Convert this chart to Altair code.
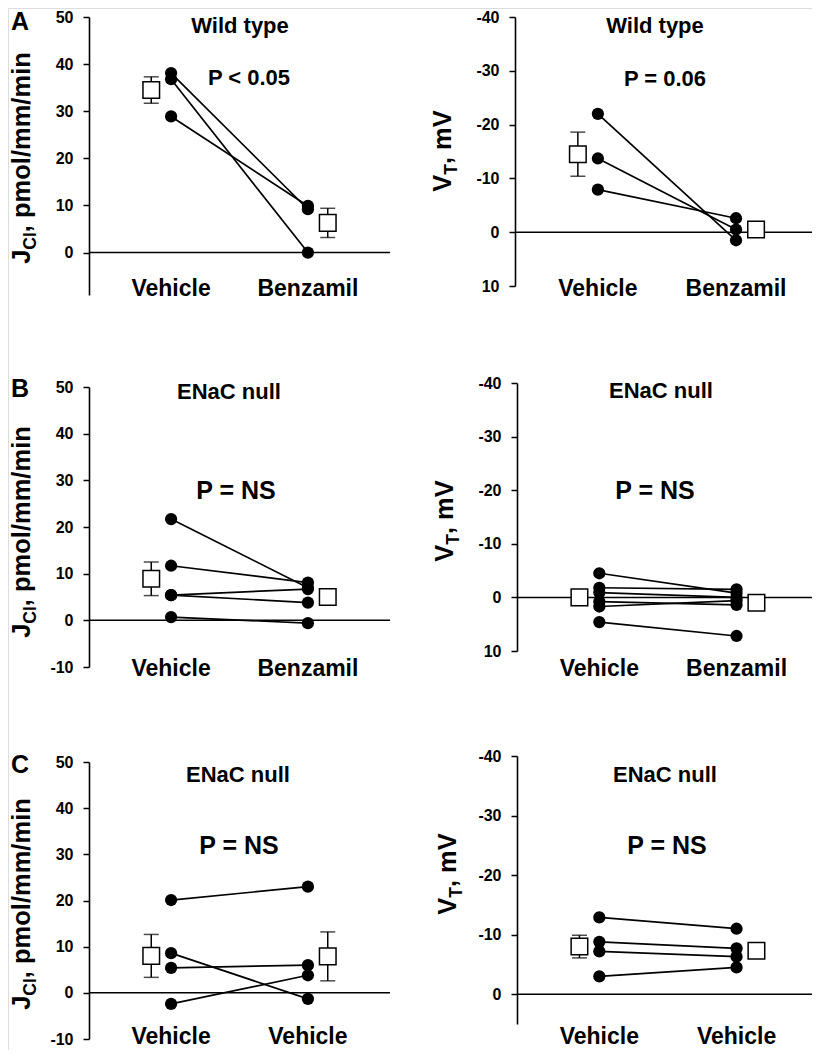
import altair as alt
import pandas as pd

FONT = "Liberation Sans"
BOLD = "bold"

# ---------------- categories / labels ----------------
cond_ab = ["Vehicle", "Benzamil"]
cond_c = ["Vehicle", "Vehicle"]
panel_letters = ["A", "B", "C"]
row_titles = ["Wild type", "ENaC null", "ENaC null"]
p_jcl = ["P < 0.05", "P = NS", "P = NS"]
p_vt = ["P = 0.06", "P = NS", "P = NS"]

# ---------------- Panel A: wild type ----------------
a_jcl_first = [38.1, 36.8, 28.9]
a_jcl_second = [9.2, 0.0, 9.9]
a_jcl_mean = [34.5, 6.3]
a_jcl_sem = [2.8, 3.1]

a_vt_first = [-22.0, -13.7, -7.9]
a_vt_second = [1.5, -0.5, -2.6]
a_vt_mean = [-14.5, -0.5]
a_vt_sem = [4.1, 1.2]

# ---------------- Panel B: ENaC null, benzamil ----------------
b_jcl_first = [21.7, 11.7, 5.4, 5.4, 0.7]
b_jcl_second = [7.0, 8.1, 6.7, 3.8, -0.6]
b_jcl_mean = [8.9, 5.0]
b_jcl_sem = [3.6, 1.5]

b_vt_first = [-4.5, -1.8, -0.9, 0.8, 1.7, 4.6]
b_vt_second = [-0.8, -1.5, 0.0, 1.4, 0.6, 7.2]
b_vt_mean = [0.0, 1.0]
b_vt_sem = [1.3, 1.3]

# ---------------- Panel C: ENaC null, vehicle / vehicle ----------------
c_jcl_first = [20.1, 8.6, 5.4, -2.4]
c_jcl_second = [23.0, -1.3, 6.0, 3.8]
c_jcl_mean = [8.0, 7.9]
c_jcl_sem = [4.65, 5.3]

c_vt_first = [-12.9, -8.8, -7.2, -3.0]
c_vt_second = [-11.0, -7.7, -6.3, -4.5]
c_vt_mean = [-8.0, -7.3]
c_vt_sem = [1.9, 1.2]

# ---------------- axis tick values ----------------
jcl_ticks_a = [0, 10, 20, 30, 40, 50]
jcl_ticks = [-10, 0, 10, 20, 30, 40, 50]
vt_ticks = [-40, -30, -20, -10, 0, 10]
vt_ticks_c = [-40, -30, -20, -10, 0]

MEAN_SHIFT = 0.145
W_TOTAL, H_TOTAL = 804, 1042

# Liberation Sans Bold advance widths (per em) for laying out the y titles
CW = {"J": .556, "C": .722, "l": .278, ",": .278, " ": .278, "p": .611,
      "m": .889, "o": .611, "/": .278, "i": .278, "n": .611, "V": .667,
      "T": .611}
JCL = [("J", 25.5, 0), ("Cl", 17.5, 6), (", pmol/mm/min", 25.5, 0)]
VT = [("V", 25.5, 0), ("T", 17.5, 6), (", mV", 25.5, 0)]


def text_width(s, size):
    return sum(CW.get(ch, .6) for ch in s) * size


def text_layer(t, x, y, size, align="center", angle=0):
    return alt.Chart(pd.DataFrame({"t": [t]})).mark_text(
        font=FONT, fontWeight=BOLD, fontSize=size, align=align, angle=angle,
        baseline="alphabetic", color="black"
    ).encode(text="t:N", x=alt.value(x), y=alt.value(y))


def panel_layers(p):
    xs = alt.Scale(domain=p["xdom"], range=p["xrange"], nice=False, zero=False)
    ys = alt.Scale(domain=p["ydom"], range=p["yrange"], nice=False, zero=False)
    X = lambda f: alt.X(f, scale=xs, axis=None)
    Y = lambda f: alt.Y(f, scale=ys, axis=None)
    yaxis = alt.Axis(orient="left", offset=-p["axis_x"], values=p["yticks"],
                     labelExpr="'' + datum.value", grid=False,
                     domainColor="black", domainWidth=1.6, tickColor="black",
                     tickWidth=1.5, tickSize=6, labelFont=FONT, labelFontSize=16,
                     labelFontWeight=BOLD, labelColor="black", labelPadding=10,
                     labelFlush=False, labelOverlap=False, title=None)

    rows = []
    for i, (a, b) in enumerate(zip(p["first"], p["second"])):
        rows.append({"subject": i, "pos": 1, "value": a})
        rows.append({"subject": i, "pos": 2, "value": b})
    sdf = pd.DataFrame(rows)
    mdf = pd.DataFrame({
        "pos": [1 - MEAN_SHIFT, 2 + MEAN_SHIFT],
        "mean": p["mean"],
        "lo": [m - s for m, s in zip(p["mean"], p["sem"])],
        "hi": [m + s for m, s in zip(p["mean"], p["sem"])],
    })
    zdf = pd.DataFrame({"z": [0], "x0": [p["xdom"][0]], "x1": [p["xdom"][1]]})
    cdf = pd.DataFrame({"pos": [1, 2], "label": p["cats"]})

    layers = [
        alt.Chart(zdf).mark_rule(color="black", strokeWidth=1.5).encode(
            x=X("x0:Q"), x2="x1:Q", y=alt.Y("z:Q", scale=ys, axis=yaxis)),
        alt.Chart(sdf).mark_line(color="black", strokeWidth=1.7).encode(
            x=X("pos:Q"), y=Y("value:Q"), detail="subject:N"),
        alt.Chart(sdf).mark_circle(color="black", opacity=1, size=150).encode(
            x=X("pos:Q"), y=Y("value:Q")),
        alt.Chart(mdf).mark_rule(color="black", strokeWidth=1.5).encode(
            x=X("pos:Q"), y=Y("lo:Q"), y2="hi:Q"),
        alt.Chart(mdf).mark_tick(color="black", orient="horizontal", size=15,
                                 thickness=1.5).encode(x=X("pos:Q"), y=Y("lo:Q")),
        alt.Chart(mdf).mark_tick(color="black", orient="horizontal", size=15,
                                 thickness=1.5).encode(x=X("pos:Q"), y=Y("hi:Q")),
        alt.Chart(mdf).mark_square(fill="white", stroke="black", strokeWidth=1.5,
                                   size=275, opacity=1).encode(
            x=X("pos:Q"), y=Y("mean:Q")),
        alt.Chart(cdf).mark_text(font=FONT, fontWeight=BOLD, fontSize=23,
                                 baseline="alphabetic", color="black").encode(
            x=X("pos:Q"), y=alt.value(p["cat_y"]), text="label:N"),
    ]
    for t, cx, by, fs in p["texts"]:
        layers.append(text_layer(t, cx, by, fs))
    # rotated y-axis title with subscript
    total = sum(text_width(t, fs) for t, fs, _ in p["tparts"])
    y = p["t_center"] + total / 2.0
    for t, fs, shift in p["tparts"]:
        layers.append(text_layer(t, p["t_base"] + shift, y, fs, align="left",
                                 angle=270))
        y -= text_width(t, fs)
    if p.get("letter"):
        lt, lx, ly = p["letter"]
        layers.append(text_layer(lt, lx, ly, 25, align="left"))
    return layers


# All coordinates below are layout positions (pixels in the drawing area)
LEFT_X = [81, 382]
XDOM_L = [0.4, 2.6]
XDOM_R = [0.4, 2.55]

panels = [
    dict(first=a_jcl_first, second=a_jcl_second, mean=a_jcl_mean, sem=a_jcl_sem,
         cats=cond_ab, ydom=[-9, 50], yticks=jcl_ticks_a, yrange=[287, 9],
         xdom=XDOM_L, xrange=LEFT_X, axis_x=81, cat_y=288,
         texts=[(row_titles[0], 232, 25, 22), (p_jcl[0], 241, 77, 22)],
         tparts=JCL, t_center=150, t_base=22, letter=(panel_letters[0], 3, 22)),
    dict(first=a_vt_first, second=a_vt_second, mean=a_vt_mean, sem=a_vt_sem,
         cats=cond_ab, ydom=[-40, 10], yticks=vt_ticks, yrange=[9, 278],
         xdom=XDOM_R, xrange=[507, 804], axis_x=507, cat_y=288,
         texts=[(row_titles[0], 647, 25, 22), (p_vt[0], 657, 78, 22)],
         tparts=VT, t_center=143, t_base=443),
    dict(first=b_jcl_first, second=b_jcl_second, mean=b_jcl_mean, sem=b_jcl_sem,
         cats=cond_ab, ydom=[-10, 50], yticks=jcl_ticks, yrange=[659, 379],
         xdom=XDOM_L, xrange=LEFT_X, axis_x=81, cat_y=668,
         texts=[(row_titles[1], 221, 391, 22), (p_jcl[1], 228, 491, 25)],
         tparts=JCL, t_center=524, t_base=22, letter=(panel_letters[1], 3, 389)),
    dict(first=b_vt_first, second=b_vt_second, mean=b_vt_mean, sem=b_vt_sem,
         cats=cond_ab, ydom=[-40, 10], yticks=vt_ticks, yrange=[375, 643],
         xdom=XDOM_R, xrange=[509, 804], axis_x=509, cat_y=668,
         texts=[(row_titles[1], 653, 390, 22), (p_vt[1], 647, 491, 25)],
         tparts=VT, t_center=513, t_base=445),
    dict(first=c_jcl_first, second=c_jcl_second, mean=c_jcl_mean, sem=c_jcl_sem,
         cats=cond_c, ydom=[-10, 50], yticks=jcl_ticks, yrange=[1031, 754],
         xdom=XDOM_L, xrange=LEFT_X, axis_x=81, cat_y=1036,
         texts=[(row_titles[2], 230, 774, 22), (p_jcl[2], 231, 846, 25)],
         tparts=JCL, t_center=896, t_base=22, letter=(panel_letters[2], 3, 765)),
    dict(first=c_vt_first, second=c_vt_second, mean=c_vt_mean, sem=c_vt_sem,
         cats=cond_c, ydom=[-40, 5], yticks=vt_ticks_c, yrange=[748, 1016],
         xdom=XDOM_R, xrange=[509, 804], axis_x=509, cat_y=1036,
         texts=[(row_titles[2], 657, 774, 22), (p_vt[2], 659, 846, 25)],
         tparts=VT, t_center=866, t_base=448),
]

all_layers = []
for p in panels:
    all_layers += panel_layers(p)

chart = alt.layer(*all_layers).resolve_scale(
    x="independent", y="independent"
).resolve_axis(
    x="independent", y="independent"
).properties(
    width=W_TOTAL, height=H_TOTAL, padding=0,
    autosize=alt.AutoSizeParams(type="none"),
).configure_view(stroke=None).configure(background="white", font=FONT)

chart.save("out.html", embed_options={"renderer": "svg", "actions": False})
